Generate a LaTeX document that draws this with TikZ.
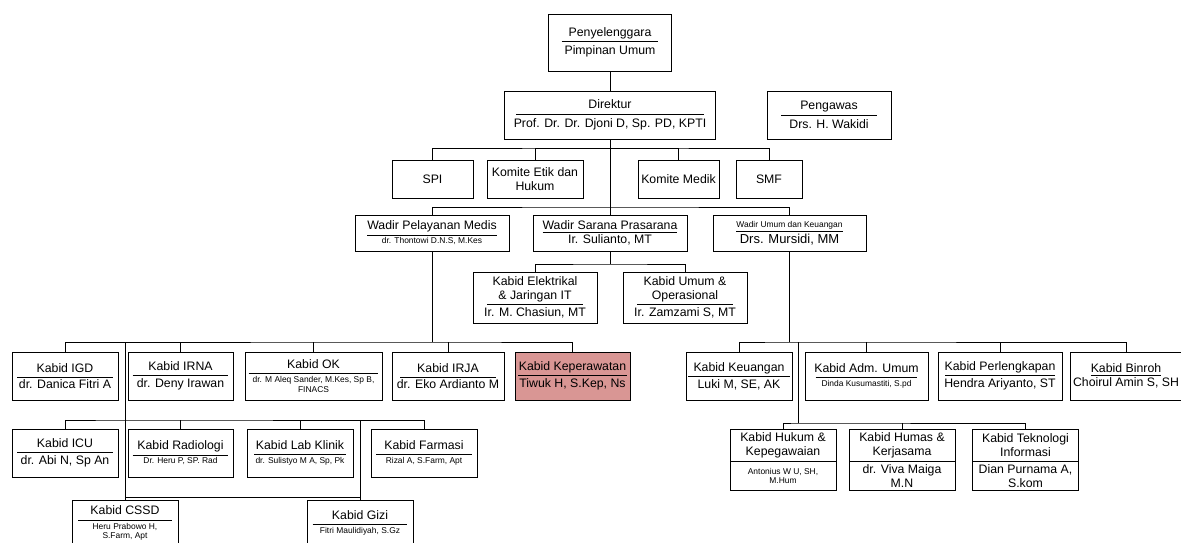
\documentclass[tikz,border=0pt]{standalone}
\usepackage{fontspec}
\setmainfont{Liberation Sans}
\usetikzlibrary{positioning}
\definecolor{kepfill}{HTML}{D99694}
\newcommand{\ttl}[2][1.92cm]{\underline{\makebox[#1]{\vphantom{g}#2}}}
\newcommand{\sm}{\fontsize{4.8}{5.8}\selectfont}
\tikzset{
  box/.style={draw, fill=white, line width=0.5pt, inner sep=1pt, align=center,
    font=\fontsize{7}{8}\selectfont},
  rowbox/.style={box, minimum height=0.96cm, minimum width=2.12cm},
  splitbox/.style={box, minimum width=2.12cm},
}

\begin{document}
\begin{tikzpicture}[x=0.02cm, y=-0.02cm, line width=0.5pt]
\useasboundingbox (0,0) rectangle (1181,542);

\node[box, minimum width=2.46cm, minimum height=1.14cm] (peny) at (610,42.5) {\ttl[1.94cm]{Penyelenggara}\\[1pt]Pimpinan Umum};
\node[box, minimum width=4.22cm, minimum height=0.96cm] (dir) at (610,115) {\ttl[3.76cm]{Direktur}\\[1pt]Prof. Dr. Dr. Djoni D, Sp. PD, KPTI};
\node[box, minimum width=2.48cm, minimum height=0.96cm] (pengawas) at (829,115) {\ttl{Pengawas}\\[1pt]Drs. H. Wakidi};

\node[box, minimum width=1.62cm, minimum height=0.76cm] (spi) at (432.5,179) {SPI};
\node[box, minimum width=1.92cm, minimum height=0.76cm] (etik) at (535,179) {Komite Etik dan\\Hukum};
\node[box, minimum width=1.62cm, minimum height=0.76cm] (medik) at (678.5,179) {Komite Medik};
\node[box, minimum width=1.32cm, minimum height=0.76cm] (smf) at (769,179) {SMF};

\node[box, minimum width=3.08cm, minimum height=0.72cm] (wpm) at (432,233) {\underline{Wadir Pelayanan Medis}\\\sm dr. Thontowi D.N.S, M.Kes};
\node[box, minimum width=3.08cm, minimum height=0.72cm] (wsp) at (610,233) {\underline{Wadir Sarana Prasarana}\\Ir. Sulianto, MT};
\node[box, minimum width=3.06cm, minimum height=0.72cm] (wuk) at (789.5,233) {\sm\underline{Wadir Umum dan Keuangan}\\\fontsize{7.4}{8}\selectfont Drs. Mursidi, MM};

\node[box, minimum width=2.48cm, minimum height=1.02cm] (elek) at (535,297.5) {Kabid Elektrikal\\\ttl{\& Jaringan IT}\\Ir. M. Chasiun, MT};
\node[box, minimum width=2.48cm, minimum height=1.02cm] (umop) at (685,297.5) {Kabid Umum \&\\\ttl{Operasional}\\Ir. Zamzami S, MT};

\node[rowbox] (igd) at (65,376) {\ttl{Kabid IGD}\\dr. Danica Fitri A};
\node[rowbox, minimum width=2.10cm] (irna) at (180.5,376) {\ttl{Kabid IRNA}\\dr. Deny Irawan};
\node[rowbox, minimum width=2.74cm] (ok) at (313.5,376) {\ttl[2.6cm]{Kabid OK}\\\sm dr. M Aleq Sander, M.Kes, Sp B,\\[-2.8pt]\sm FINACS};
\node[rowbox, minimum width=2.24cm] (irja) at (448,376) {\ttl{Kabid IRJA}\\dr. Eko Ardianto M};
\node[rowbox, minimum width=2.30cm, fill=kepfill] (kep) at (572.5,376) {\ttl[2.18cm]{Kabid Keperawatan}\\Tiwuk H, S.Kep, Ns};

\node[rowbox] (keu) at (739,376) {\ttl[2.04cm]{Kabid Keuangan}\\Luki M, SE, AK};
\node[rowbox, minimum width=2.46cm] (adm) at (866.5,376) {\ttl[2.04cm]{Kabid Adm. Umum}\\\sm Dinda Kusumastiti, S.pd};
\node[rowbox, minimum width=2.48cm] (perl) at (1000,376) {\ttl[2.2cm]{Kabid Perlengkapan}\\Hendra Ariyanto, ST};
\node[rowbox, minimum width=2.24cm] (binroh) at (1126,376) {\underline{Kabid Binroh}\\Choirul Amin S, SH};

\node[rowbox] (icu) at (65,453) {\ttl{Kabid ICU}\\dr. Abi N, Sp An};
\node[rowbox, minimum width=2.10cm] (rad) at (180.5,453) {\ttl{Kabid Radiologi}\\\sm Dr. Heru P, SP. Rad};
\node[rowbox] (lab) at (300,453) {\ttl[1.84cm]{Kabid Lab Klinik}\\\sm dr. Sulistyo M A, Sp, Pk};
\node[rowbox] (farm) at (424,453) {\ttl{Kabid Farmasi}\\\sm Rizal A, S.Farm, Apt};

\node[rowbox, minimum height=0.92cm] (cssd) at (125,523) {\ttl[1.88cm]{Kabid CSSD}\\\sm Heru Prabowo H,\\[-2.8pt]\sm S.Farm, Apt};
\node[rowbox, minimum height=0.92cm] (gizi) at (360,523) {\ttl[1.9cm]{Kabid Gizi}\\\sm Fitri Maulidiyah, S.Gz};

\node[splitbox, minimum height=0.64cm] (hukum) at (783,445) {Kabid Hukum \&\\Kepegawaian};
\node[splitbox, minimum height=0.58cm, below=0pt of hukum] (hukumP) {\sm Antonius W U, SH,\\[-2.8pt]\sm M.Hum};
\node[splitbox, minimum height=0.64cm] (humas) at (902,445) {Kabid Humas \&\\Kerjasama};
\node[splitbox, minimum height=0.58cm, below=0pt of humas] (humasP) {dr. Viva Maiga\\M.N};
\node[splitbox, minimum height=0.64cm] (ti) at (1025.5,445) {Kabid Teknologi\\Informasi};
\node[splitbox, minimum height=0.58cm, below=0pt of ti] (tiP) {Dian Purnama A,\\S.kom};

\coordinate (kbus) at (610,148);
\coordinate (wbus) at (610,207);
\coordinate (sbus) at (610,264);
\coordinate (lbus) at (432,342);
\coordinate (l2bus) at (125,420);
\coordinate (l3bus) at (125,497);
\coordinate (rbus) at (789.5,342);
\coordinate (rtrunk) at (798,342);
\coordinate (r2bus) at (798,423);

\draw (peny) -- (dir);
\draw (dir) -- (wsp);
\draw (spi.north) |- (kbus) -| (smf.north);
\draw (kbus) -| (etik.north);
\draw (kbus) -| (medik.north);
\draw (wpm.north) |- (wbus) -| (wuk.north);
\draw (wsp) -- (sbus);
\draw (elek.north) |- (sbus) -| (umop.north);

\draw (wpm) -- (lbus);
\draw (igd.north) |- (lbus) -| (kep.north);
\draw (irna.north) -- (irna.north |- lbus);
\draw (ok.north) -- (ok.north |- lbus);
\draw (irja.north) -- (irja.north |- lbus);
\draw (cssd.north) -- (cssd.north |- lbus);
\draw (icu.north) |- (l2bus) -| (farm.north);
\draw (rad.north) -- (rad.north |- l2bus);
\draw (lab.north) -- (lab.north |- l2bus);
\draw (gizi.north) -- (gizi.north |- l2bus);
\draw (l3bus) -- (gizi.north |- l3bus);

\draw (wuk) -- (rbus);
\draw (keu.north) |- (rbus) -| (binroh.north);
\draw (adm.north) -- (adm.north |- rbus);
\draw (perl.north) -- (perl.north |- rbus);
\draw (rtrunk) -- (r2bus);
\draw (hukum.north) |- (r2bus) -| (ti.north);
\draw (humas.north) -- (humas.north |- r2bus);
\end{tikzpicture}
\end{document}
